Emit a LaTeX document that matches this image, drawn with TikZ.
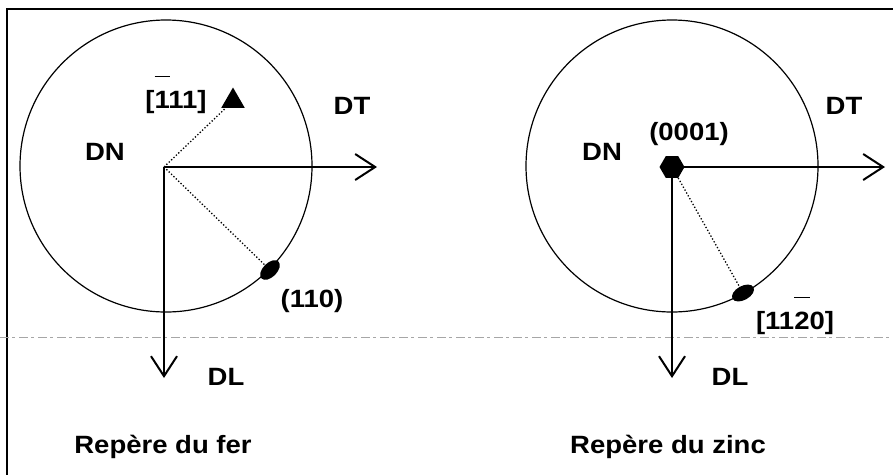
\documentclass[tikz,border=0pt]{standalone}
\usepackage{fontspec}
\setmainfont{Liberation Sans}[FakeStretch=1.1]
\usepackage{tikz}
\usetikzlibrary{arrows.meta,shapes.geometric}

% bar over one digit, set well above the caps
\newcommand{\barre}[1]{\setbox0\hbox{#1}\rlap{\raisebox{1.25em}{\rule{\wd0}{1.3pt}}}#1}

\begin{document}
\begin{tikzpicture}[
  x=1pt, y=-1pt,
  lbl/.style={font=\bfseries\fontsize{25}{30}\selectfont, inner sep=0pt},
  axe/.style={-{Straight Barb[length=20pt,width=26pt]}, line width=2pt},
  proj/.style={dotted, line width=1.3pt},
  pole/.style={fill=black, inner sep=0pt}
]
\useasboundingbox (0,0) rectangle (893,475);

% frame and scan line
\draw[line width=2.5pt] (893,9) -- (7,9) -- (7,475);
\draw[gray!70, line width=0.8pt, dash pattern=on 9pt off 3pt on 3pt off 4pt] (0,337) -- (893,337);

% repere du fer
\draw[line width=1.2pt] (166,166) circle[radius=146];
\coordinate (o1) at (164,167);
\coordinate (t1) at (377,167);
\coordinate (l1) at (164,378);
\node[pole, regular polygon, regular polygon sides=3, minimum size=27pt] (tri) at (233,101) {};
\node[pole, ellipse, minimum width=24pt, minimum height=14pt, rotate=45] (e1) at (270,270) {};
\draw[axe] (o1) -- (t1);
\draw[axe] (o1) -- (l1);
\draw[proj] (o1) -- (tri);
\draw[proj] (o1) -- (e1);
\node[lbl] (dn1) at (105,152) {DN};
\node[lbl] (dt1) at (352,106) {DT};
\node[lbl] (dl1) at (226,377) {DL};
\node[lbl] (d111) at (176,95) {[\barre{1}11]};
\node[lbl] (p110) at (312,301) {(110)};
\node[lbl] (fer) at (163,447) {Repère du fer};

% repere du zinc
\draw[line width=1.2pt] (672,166) circle[radius=146];
\coordinate (o2) at (672,167);
\coordinate (t2) at (885,167);
\coordinate (l2) at (672,378);
\node[pole, regular polygon, regular polygon sides=6, minimum size=25pt] (hex) at (o2) {};
\node[pole, ellipse, minimum width=24pt, minimum height=14pt, rotate=29] (e2) at (743,293) {};
\draw[axe] (hex.center) -- (t2);
\draw[axe] (hex.center) -- (l2);
\draw[proj] (hex) -- (e2);
\node[lbl] (dn2) at (602,152) {DN};
\node[lbl] (dt2) at (844,106) {DT};
\node[lbl] (dl2) at (730,377) {DL};
\node[lbl] (p0001) at (689,134) {(0001)};
\node[lbl] (d1120) at (795,316) {[11\barre{2}0]};
\node[lbl] (zinc) at (668,447) {Repère du zinc};
\end{tikzpicture}
\end{document}
